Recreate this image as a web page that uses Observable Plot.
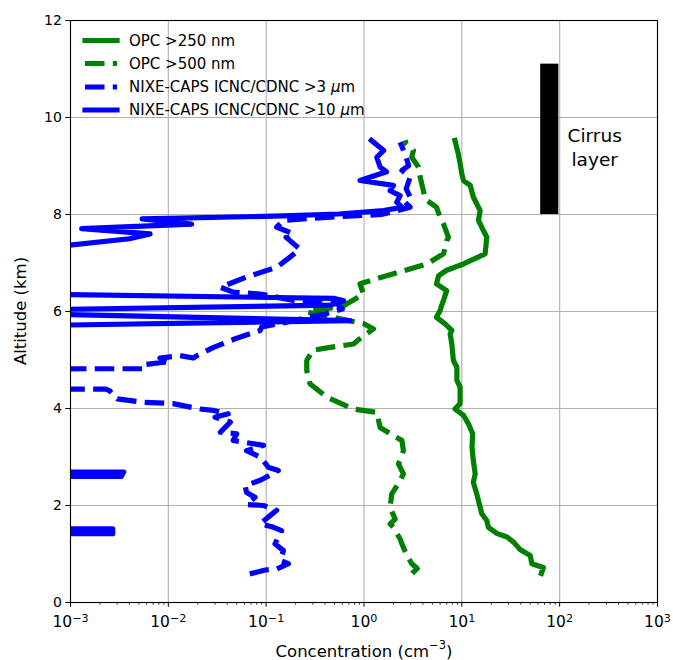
<!DOCTYPE html>
<html><head><meta charset="utf-8">
<script src="https://cdn.jsdelivr.net/npm/d3@7"></script>
<script src="https://cdn.jsdelivr.net/npm/@observablehq/plot@0.6"></script>
<style>
body{margin:0;background:#fff;font-family:"DejaVu Sans",sans-serif}
#wrap{position:relative;width:673px;height:660px}
</style></head><body><div id="wrap"></div>
<script>
// ---- data (altitude in km, concentration in cm^-3; 0 = below detection / off-scale) ----
const opc250Alt = [0.6,0.72,0.8,0.97,1.1,1.24,1.35,1.42,1.55,1.69,1.83,1.96,2.24,2.48,2.65,2.93,3.2,3.48,3.68,3.86,3.99,4.1,4.44,4.58,4.85,4.99,5.33,5.54,5.61,5.75,5.88,6.02,6.12,6.23,6.43,6.57,6.74,6.85,6.98,7.19,7.53,7.67,7.88,8.08,8.36,8.6,8.7,8.84,9.05,9.25,9.53];
const opc250Val = [65,68,52,50,39,34,29,23,18.7,18,16,15.4,14.2,13.1,13.7,13.1,12.7,12.9,11.7,10.4,8.5,9.6,9.6,8.9,8.9,8.2,7.9,7.6,7.9,6.7,5.5,6.0,6.2,6.5,7.0,5.5,5.8,7.0,10.4,17.3,18,16.6,14.8,15.4,13.1,12.2,10.4,10,9.6,9.2,8.5];

const opc500Alt = [0.6,0.7,0.8,1.0,1.21,1.31,1.55,1.62,1.72,1.96,2.24,2.45,2.65,2.86,2.93,3.13,3.34,3.44,3.61,3.92,3.99,4.23,4.51,4.78,4.99,5.2,5.26,5.33,5.47,5.64,5.75,5.99,6.12,6.36,6.57,6.78,6.98,7.19,7.46,7.53,7.8,7.94,8.15,8.32,8.49,8.77,8.98,9.18,9.32,9.46,9.53];
const opc500Val = [3.1,3.5,3.08,2.7,2.44,2.34,2.0,1.85,2.08,1.85,1.92,2.25,2.53,2.25,2.34,2.53,2.44,2.0,1.46,1.35,0.78,0.42,0.28,0.26,0.26,0.30,0.45,0.78,0.95,1.25,0.99,0.26,0.62,0.99,0.91,2.0,4.4,6.5,7.0,7.3,6.5,6.0,5.5,4.2,4.05,3.75,3.6,3.08,3.2,2.7,2.63];

const nixe3Alt = [0.59,0.67,0.69,0.8,0.87,1.07,1.21,1.48,1.55,1.62,1.76,1.9,2.0,2.02,2.17,2.27,2.41,2.52,2.72,2.79,3.0,3.13,3.24,3.34,3.48,3.51,3.72,3.82,3.89,3.96,3.99,4.1,4.13,4.2,4.37,4.4,4.45,4.78,4.82,4.9,4.97,5.04,5.09,5.04,5.1,5.26,5.45,5.61,5.68,5.81,5.95,6.05,6.16,6.23,6.36,6.4,6.5,6.71,6.91,7.12,7.29,7.4,7.53,7.6,7.74,7.88,7.95,8.0,8.08,8.15,8.25,8.36,8.53,8.77,8.91,9.01,9.25,9.49];
const nixe3Val = [0.068,0.098,0.128,0.169,0.139,0.15,0.123,0.144,0.119,0.087,0.105,0.128,0.094,0.063,0.077,0.063,0.061,0.087,0.133,0.105,0.087,0.063,0.094,0.046,0.05,0.034,0.043,0.03,0.041,0.029,0.021,0.0112,0.0055,0.003,0.0025,0.0023,0,0,0.0055,0.0055,0.0105,0.0082,0.0132,0.018,0.02,0.029,0.05,0.087,0.09,0.19,0.4,0.6,0.53,0.19,0.087,0.046,0.034,0.063,0.128,0.175,0.22,0.19,0.16,0.19,0.128,0.15,0.5,1.5,2.16,2.96,2.63,2.96,2.7,2.96,2.44,2.86,2.63,2.34];

const nixe10Alt = [0.6,1.38,1.42,1.52,1.56,2.55,2.6,2.69,2.73,5.6,5.71,5.81,5.96,6.03,6.13,6.22,6.27,6.36,6.42,7.3,7.36,7.5,7.6,7.71,7.8,7.91,7.97,8.01,8.08,8.15,8.25,8.39,8.49,8.6,8.7,8.88,8.98,9.18,9.32,9.53];
const nixe10Val = [0,0,0.0027,0.0027,0,0,0.0033,0.0035,0,0,0.0004,0.72,0.0003,0.0003,0.45,0.62,0.5,0.0004,0,0,0.0009,0.004,0.0065,0.0013,0.0173,0.0054,0.15,0.55,1.59,2.44,2.16,2.34,1.85,2.0,0.91,1.7,1.46,1.35,1.59,1.19];

const seriesNames = ["OPC >250 nm","OPC >500 nm","NIXE-CAPS ICNC/CDNC >3 μm","NIXE-CAPS ICNC/CDNC >10 μm"];
const seriesColors = ["green","green","blue","blue"];
const seriesDashed = [false,true,true,false];

const cirrusBar = {x1: 64, x2: 98, y1: 8.0, y2: 11.1};
const cirrusNote = {x: 228, y: 9.4, text: "Cirrus\nlayer"};

const xTicks = [1e-3,1e-2,1e-1,1e0,1e1,1e2,1e3];
const xTickExponents = ["−3","−2","−1","0","1","2","3"];
const yTicks = [0,2,4,6,8,10,12];
const xLabel = "Concentration (cm";
const yLabel = "Altitude (km)";

// ---- build table ----
const alts = [opc250Alt, opc500Alt, nixe3Alt, nixe10Alt];
const vals = [opc250Val, opc500Val, nixe3Val, nixe10Val];
const series = seriesNames.map((name, k) =>
  alts[k].map((a, i) => ({series: name, alt: a, val: vals[k][i]})));

const minorTicks = [];
for (let e = -3; e < 3; e++) for (let m = 2; m <= 9; m++) minorTicks.push(m * Math.pow(10, e));

const LW = 5.2, DASH = "19.5,8.3";
const xOf = d => d.val > 0 ? d.val : 1e-30;

const lineMarks = series.map((data, k) => Plot.line(data, {
  x: xOf, y: "alt", stroke: seriesColors[k], strokeWidth: LW,
  strokeDasharray: seriesDashed[k] ? DASH : null,
  strokeLinejoin: "round", strokeLinecap: seriesDashed[k] ? "butt" : "square",
  clip: true
}));

const expIndex = d => xTicks.findIndex(t => Math.abs(Math.log10(t) - Math.log10(d)) < 1e-6);
const fmtX = d => "10^" + xTickExponents[expIndex(d)];

const chart = Plot.plot({
  width: 673, height: 660,
  marginLeft: 70, marginRight: 16, marginTop: 20, marginBottom: 58,
  style: {fontFamily: "DejaVu Sans", fontSize: "14px", color: "black", background: "white"},
  x: {type: "log", domain: [1e-3, 1e3]},
  y: {domain: [0, 12]},
  marks: [
    Plot.gridX(xTicks, {stroke: "#b0b0b0", strokeOpacity: 1, strokeWidth: 1.1}),
    Plot.gridY(yTicks, {stroke: "#b0b0b0", strokeOpacity: 1, strokeWidth: 1.1}),
    Plot.rect([cirrusBar], {x1: "x1", x2: "x2", y1: "y1", y2: "y2", fill: "black"}),
    Plot.text([cirrusNote], {x: "x", y: "y", text: "text", fontSize: 18.5, lineHeight: 1.27, fill: "black"}),
    ...lineMarks,
    Plot.frame({stroke: "black", strokeWidth: 1.1}),
    Plot.axisX(minorTicks, {tickSize: 2.7, tickFormat: () => "", label: null, strokeWidth: 0.8}),
    Plot.axisX(xTicks, {tickSize: 4.7, tickPadding: 9, tickFormat: fmtX, label: null, fontSize: 15.5}),
    Plot.axisY(yTicks, {tickSize: 4.7, tickPadding: 4, label: null, fontSize: 14})
  ]
});
document.getElementById("wrap").appendChild(chart);

// ---- rebuild x tick labels as 10 with a raised exponent ----
const svg = d3.select(chart);
svg.selectAll("text").each(function() {
  const s = this.textContent;
  if (s.startsWith("10^")) {
    const exp = s.slice(3);
    const t = d3.select(this);
    t.text(null);
    t.append("tspan").text("10");
    t.append("tspan").attr("dy", "-0.45em").attr("font-size", "0.72em").text(exp);
  }
});

// ---- axis titles and legend ----
const xl = svg.append("text").attr("x", 364).attr("y", 651).attr("text-anchor", "middle")
  .attr("dominant-baseline", "central").attr("font-size", 16.5).attr("fill", "black")
  .attr("font-family", "DejaVu Sans");
xl.append("tspan").text(xLabel);
xl.append("tspan").attr("dy", -6).attr("font-size", 11.5).text("−3");
xl.append("tspan").attr("dy", 6).text(")");

svg.append("text").attr("transform", "translate(20,311) rotate(-90)").attr("text-anchor", "middle")
  .attr("dominant-baseline", "central").attr("font-size", 16.5).attr("fill", "black")
  .attr("font-family", "DejaVu Sans").text(yLabel);

const lg = svg.append("g").attr("font-family", "DejaVu Sans").attr("font-size", 15).attr("text-anchor", "start");
const rowY = [40.5, 63.5, 87, 110];
seriesNames.forEach((name, k) => {
  lg.append("line").attr("x1", 85).attr("x2", 117).attr("y1", rowY[k]).attr("y2", rowY[k])
    .attr("stroke", seriesColors[k]).attr("stroke-width", LW)
    .attr("stroke-dasharray", seriesDashed[k] ? DASH : null)
    .attr("stroke-linecap", seriesDashed[k] ? "butt" : "square");
  const t = lg.append("text").attr("x", 129).attr("y", rowY[k]).attr("dominant-baseline", "central")
    .attr("text-anchor", "start").attr("fill", "black");
  const mu = name.indexOf("μ");
  if (mu >= 0) {
    t.append("tspan").text(name.slice(0, mu));
    t.append("tspan").attr("font-style", "italic").text("μ");
    t.append("tspan").text(name.slice(mu + 1));
  } else t.text(name);
});
</script></body></html>
